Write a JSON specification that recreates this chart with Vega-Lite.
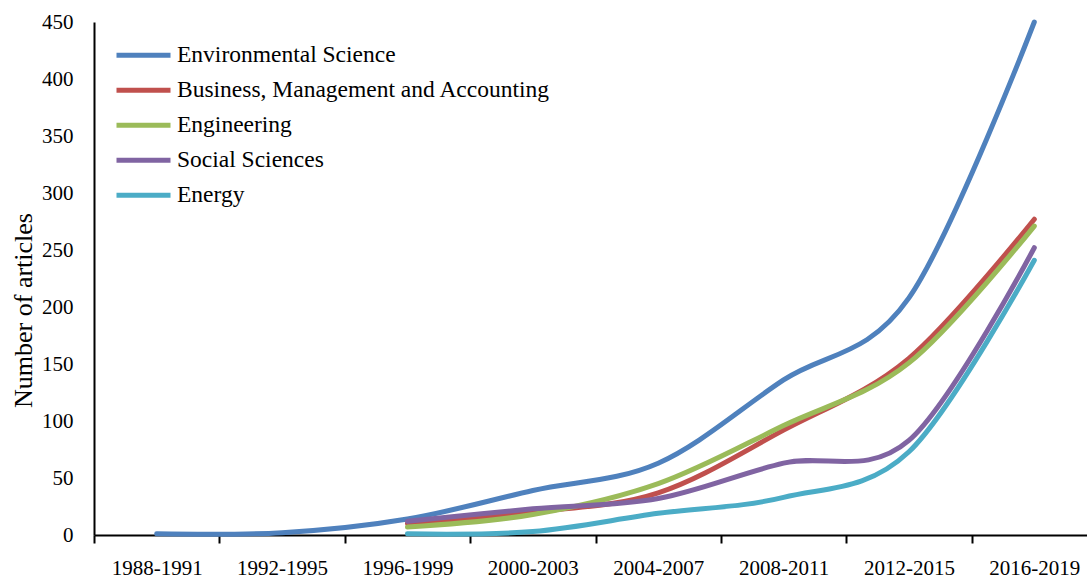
{
  "$schema": "https://vega.github.io/schema/vega-lite/v6.json",
  "autosize": "none",
  "width": 1003,
  "height": 513,
  "padding": {"left": 94, "top": 22, "right": 0, "bottom": 46},
  "background": "white",
  "config": {
    "view": {"stroke": null},
    "font": "Liberation Serif"
  },
  "data": {
    "values": [
      {"period": "1988-1991", "field": "Environmental Science", "articles": 1},
      {"period": "1992-1995", "field": "Environmental Science", "articles": 2},
      {"period": "1996-1999", "field": "Environmental Science", "articles": 14},
      {"period": "2000-2003", "field": "Environmental Science", "articles": 39},
      {"period": "2004-2007", "field": "Environmental Science", "articles": 63},
      {"period": "2008-2011", "field": "Environmental Science", "articles": 136},
      {"period": "2012-2015", "field": "Environmental Science", "articles": 208},
      {"period": "2016-2019", "field": "Environmental Science", "articles": 450},
      {"period": "1996-1999", "field": "Business, Management and Accounting", "articles": 10},
      {"period": "2000-2003", "field": "Business, Management and Accounting", "articles": 20},
      {"period": "2004-2007", "field": "Business, Management and Accounting", "articles": 37},
      {"period": "2008-2011", "field": "Business, Management and Accounting", "articles": 92},
      {"period": "2012-2015", "field": "Business, Management and Accounting", "articles": 155},
      {"period": "2016-2019", "field": "Business, Management and Accounting", "articles": 277},
      {"period": "1996-1999", "field": "Engineering", "articles": 7},
      {"period": "2000-2003", "field": "Engineering", "articles": 18},
      {"period": "2004-2007", "field": "Engineering", "articles": 45},
      {"period": "2008-2011", "field": "Engineering", "articles": 96},
      {"period": "2012-2015", "field": "Engineering", "articles": 151},
      {"period": "2016-2019", "field": "Engineering", "articles": 271},
      {"period": "1996-1999", "field": "Social Sciences", "articles": 12},
      {"period": "2000-2003", "field": "Social Sciences", "articles": 23},
      {"period": "2004-2007", "field": "Social Sciences", "articles": 32},
      {"period": "2008-2011", "field": "Social Sciences", "articles": 63},
      {"period": "2012-2015", "field": "Social Sciences", "articles": 83},
      {"period": "2016-2019", "field": "Social Sciences", "articles": 252},
      {"period": "1996-1999", "field": "Energy", "articles": 1},
      {"period": "2000-2003", "field": "Energy", "articles": 3},
      {"period": "2004-2007", "field": "Energy", "articles": 19},
      {"period": "2008-2011", "field": "Energy", "articles": 33},
      {"period": "2012-2015", "field": "Energy", "articles": 73},
      {"period": "2016-2019", "field": "Energy", "articles": 241}
    ]
  },
  "mark": {"type": "line", "interpolate": "cardinal", "strokeWidth": 5, "strokeCap": "round", "strokeJoin": "round"},
  "encoding": {
    "x": {
      "field": "period", "type": "ordinal",
      "scale": {"type": "band", "paddingInner": 0, "paddingOuter": 0},
      "axis": {
        "title": null, "labelAngle": 0, "labelFontSize": 21, "labelColor": "black",
        "labelPadding": 14, "domainColor": "black", "domainWidth": 2,
        "tickColor": "black", "tickWidth": 2, "tickSize": 8, "tickBand": "extent",
        "grid": false
      }
    },
    "y": {
      "field": "articles", "type": "quantitative",
      "scale": {"domain": [0, 450], "nice": false},
      "axis": {
        "title": "Number of articles", "titleFontSize": 26, "titleFontWeight": "normal",
        "titleColor": "black", "titleX": -71, "titleY": 288, "titleAngle": -90,
        "titleBaseline": "middle", "titleAlign": "center",
        "values": [0, 50, 100, 150, 200, 250, 300, 350, 400, 450],
        "labelFontSize": 21, "labelColor": "black", "labelPadding": 21,
        "ticks": false, "grid": false, "domainColor": "black", "domainWidth": 2
      }
    },
    "color": {
      "field": "field", "type": "nominal",
      "scale": {
        "domain": ["Environmental Science", "Business, Management and Accounting", "Engineering", "Social Sciences", "Energy"],
        "range": ["#4F81BD", "#C0504D", "#9BBB59", "#8064A2", "#4BACC6"]
      },
      "legend": {
        "title": null, "orient": "none", "legendX": 20, "legendY": 16,
        "symbolType": "stroke", "symbolSize": 2916, "symbolStrokeWidth": 5,
        "labelFontSize": 23.5, "labelColor": "black", "labelOffset": 4,
        "clipHeight": 34.5, "rowPadding": 0, "padding": 0, "labelLimit": 600
      }
    }
  }
}
